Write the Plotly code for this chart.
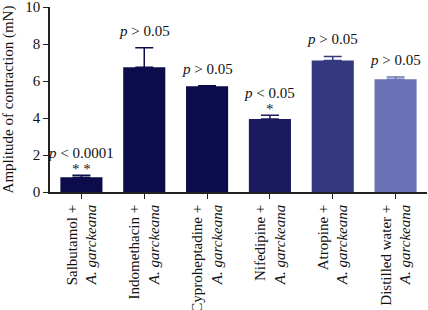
import plotly.graph_objects as go

categories = ["Salbutamol +<br><i>A. garckeana</i>", "Indomethacin +<br><i>A. garckeana</i>",
              "Cyproheptadine +<br><i>A. garckeana</i>", "Nifedipine +<br><i>A. garckeana</i>",
              "Atropine +<br><i>A. garckeana</i>", "Distilled water +<br><i>A. garckeana</i>"]
values = [0.80, 6.75, 5.72, 3.95, 7.11, 6.10]
errors = [0.10, 1.05, 0.03, 0.20, 0.22, 0.12]
colors = ["#0d0c4b", "#0d0c4b", "#0d0c4b", "#1b1a5f", "#34387e", "#6b73b6"]
p_labels = ["<i>p</i> < 0.0001", "<i>p</i> > 0.05", "<i>p</i> > 0.05",
            "<i>p</i> < 0.05", "<i>p</i> > 0.05", "<i>p</i> > 0.05"]
stars = ["* *", "", "", "*", "", ""]

FONT = "Liberation Serif"
fig = go.Figure()
xs = list(range(len(categories)))
for i in xs:
    fig.add_trace(go.Bar(
        x=[i], y=[values[i]], width=0.67,
        marker=dict(color=colors[i], line=dict(width=0)),
        error_y=dict(type="data", array=[errors[i]], arrayminus=[0], symmetric=False,
                     color=colors[i], thickness=1.5, width=9),
        showlegend=False))

for i in xs:
    top = values[i] + errors[i]
    if stars[i]:
        fig.add_annotation(x=i, y=top, text=stars[i], showarrow=False, yanchor="bottom",
                           yshift=-4, font=dict(family=FONT, size=15, color="#222"))
        fig.add_annotation(x=i, y=top, text=p_labels[i], showarrow=False, yanchor="bottom",
                           yshift=12, font=dict(family=FONT, size=15, color="#111"))
    else:
        fig.add_annotation(x=i, y=top, text=p_labels[i], showarrow=False, yanchor="bottom",
                           yshift=7, font=dict(family=FONT, size=15, color="#111"))

fig.update_layout(
    width=428, height=310,
    margin=dict(l=50, r=1, t=7, b=118),
    plot_bgcolor="white", paper_bgcolor="white",
    font=dict(family=FONT, size=14, color="#111"),
    xaxis=dict(range=[-0.5, 5.5], tickmode="array", tickvals=xs, ticktext=categories,
               tickangle=-90, showline=True, linecolor="#222", linewidth=1.5,
               ticks="outside", ticklen=5, tickcolor="#222", showgrid=False, zeroline=False,
               automargin=False, ticklabeloverflow="allow",
               tickfont=dict(family=FONT, size=15)),
    yaxis=dict(range=[0, 10], tickvals=[0, 2, 4, 6, 8, 10], showline=True, linecolor="#222",
               linewidth=1.5, ticks="outside", ticklen=5, tickcolor="#222", showgrid=False,
               zeroline=False, automargin=False, ticklabeloverflow="allow",
               tickfont=dict(family=FONT, size=15),
               title=dict(text="Amplitude of contraction (mN)", font=dict(family=FONT, size=15),
                          standoff=8)),
)
fig.write_html("out.html", config={"displayModeBar": False},
               post_script="document.body.style.margin='0';document.body.style.padding='0';")
